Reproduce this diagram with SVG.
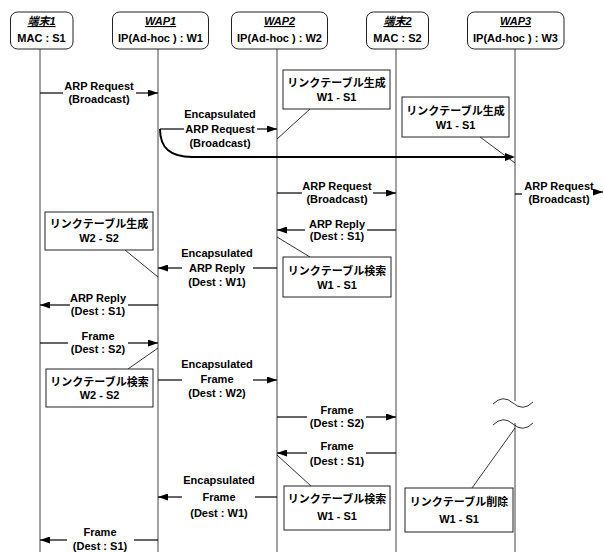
<svg xmlns="http://www.w3.org/2000/svg" width="604" height="552" viewBox="0 0 604 552">
<defs>
<style>
text{font-family:"Liberation Sans","Noto Sans CJK JP",sans-serif;font-weight:bold;font-size:11px;fill:#000;text-anchor:middle}
.hd{fill:#fff;stroke:#222;stroke-width:1}
.ttl{font-style:italic;text-decoration:underline}
.life{stroke:#444;stroke-width:1;fill:none}
.note{fill:#fff;stroke:#222;stroke-width:1}
.ln{stroke:#000;stroke-width:1.2;fill:none}
.thin{stroke:#000;stroke-width:0.8;fill:none}
.thick{stroke:#000;stroke-width:2;fill:none}
</style>
<marker id="ah" viewBox="0 0 10 7" refX="10" refY="3.5" markerWidth="10" markerHeight="7" orient="auto" markerUnits="userSpaceOnUse"><path d="M0,0 L10,3.5 L0,7 z" fill="#000"/></marker>
</defs>
<rect width="604" height="552" fill="#fff"/>

<g id="term1">
<line class="life" x1="40" y1="49" x2="40" y2="552"/>
<rect class="hd" x="10.5" y="12" width="62.5" height="37" rx="7"/>
<text class="ttl" x="41.5" y="25">端末1</text>
<text x="41.5" y="42">MAC : S1</text>
</g>
<g id="wap1">
<line class="life" x1="158" y1="49" x2="158" y2="552"/>
<rect class="hd" x="112.5" y="12" width="96" height="37" rx="7"/>
<text class="ttl" x="160.5" y="25">WAP1</text>
<text x="160.5" y="42">IP(Ad-hoc ) : W1</text>
</g>
<g id="wap2">
<line class="life" x1="277" y1="49" x2="277" y2="552"/>
<rect class="hd" x="231.5" y="12" width="96" height="37" rx="7"/>
<text class="ttl" x="279.5" y="25">WAP2</text>
<text x="279.5" y="42">IP(Ad-hoc ) : W2</text>
</g>
<g id="term2">
<line class="life" x1="396" y1="49" x2="396" y2="552"/>
<rect class="hd" x="366.5" y="12" width="62" height="37" rx="7"/>
<text class="ttl" x="397.5" y="25">端末2</text>
<text x="397.5" y="42">MAC : S2</text>
</g>
<g id="wap3">
<line class="life" x1="515" y1="49" x2="515" y2="401"/>
<line class="life" x1="515" y1="423" x2="515" y2="552"/>
<rect class="hd" x="467.5" y="12" width="96.5" height="37" rx="7"/>
<text class="ttl" x="515.5" y="25">WAP3</text>
<text x="515.5" y="42">IP(Ad-hoc ) : W3</text>
<path class="thin" d="M493,404 Q503,394 513,403 T533,402"/>
<path class="thin" d="M493,425 Q503,415 513,424 T533,423"/>
</g>

<g id="connectors">
<!-- A1 ARP Request -->
<line class="ln" x1="40" y1="93" x2="63" y2="93"/>
<line class="ln" x1="136" y1="93" x2="158" y2="93" marker-end="url(#ah)"/>
<text x="99" y="90">ARP Request</text>
<text x="99" y="103">(Broadcast)</text>
<!-- A2 Encapsulated ARP Request -->
<line class="ln" x1="160" y1="129" x2="184" y2="129"/>
<line class="ln" x1="257" y1="129" x2="277" y2="129" marker-end="url(#ah)"/>
<text x="220" y="118">Encapsulated</text>
<text x="220" y="133">ARP Request</text>
<text x="220" y="147">(Broadcast)</text>
<!-- A3 curve to WAP3 -->
<path class="thick" d="M160,129 C160,148 170,157 192,157 L506,157"/>
<path d="M505,153 L515,157 L505,161 z" fill="#000"/>
<!-- A4 -->
<line class="ln" x1="277" y1="193" x2="302" y2="193"/>
<line class="ln" x1="373" y1="193" x2="396" y2="193" marker-end="url(#ah)"/>
<text x="337" y="190">ARP Request</text>
<text x="337" y="203">(Broadcast)</text>
<!-- A5 -->
<line class="ln" x1="515" y1="194" x2="522" y2="194"/>
<line class="ln" x1="594" y1="192" x2="603" y2="192" marker-end="url(#ah)"/>
<text x="559" y="190">ARP Request</text>
<text x="559" y="203">(Broadcast)</text>
<!-- A6 ARP Reply -->
<line class="ln" x1="305" y1="230" x2="277" y2="230" marker-end="url(#ah)"/>
<line class="ln" x1="367" y1="230" x2="396" y2="230"/>
<text x="337" y="228">ARP Reply</text>
<text x="337" y="240">(Dest : S1)</text>
<!-- A7 Encapsulated ARP Reply -->
<line class="ln" x1="182" y1="268" x2="158" y2="268" marker-end="url(#ah)"/>
<line class="ln" x1="253" y1="268" x2="277" y2="268"/>
<text x="217" y="257">Encapsulated</text>
<text x="217" y="272">ARP Reply</text>
<text x="217" y="286">(Dest : W1)</text>
<!-- A8 ARP Reply -->
<line class="ln" x1="70" y1="305" x2="40" y2="305" marker-end="url(#ah)"/>
<line class="ln" x1="128" y1="305" x2="158" y2="305"/>
<text x="98" y="302">ARP Reply</text>
<text x="98" y="315">(Dest : S1)</text>
<!-- A9 Frame -->
<line class="ln" x1="40" y1="343" x2="68" y2="343"/>
<line class="ln" x1="128" y1="343" x2="158" y2="343" marker-end="url(#ah)"/>
<text x="98" y="340">Frame</text>
<text x="98" y="353">(Dest : S2)</text>
<!-- A10 Encapsulated Frame -->
<line class="ln" x1="158" y1="380" x2="182" y2="380"/>
<line class="ln" x1="253" y1="380" x2="277" y2="380" marker-end="url(#ah)"/>
<text x="217" y="368">Encapsulated</text>
<text x="217" y="383">Frame</text>
<text x="217" y="397">(Dest : W2)</text>
<!-- A11 Frame -->
<line class="ln" x1="277" y1="417" x2="307" y2="417"/>
<line class="ln" x1="366" y1="417" x2="396" y2="417" marker-end="url(#ah)"/>
<text x="337" y="414">Frame</text>
<text x="337" y="427">(Dest : S2)</text>
<!-- A12 Frame -->
<line class="ln" x1="307" y1="453" x2="277" y2="453" marker-end="url(#ah)"/>
<line class="ln" x1="366" y1="453" x2="396" y2="453"/>
<text x="337" y="450">Frame</text>
<text x="337" y="465">(Dest : S1)</text>
<!-- A13 Encapsulated Frame -->
<line class="ln" x1="182" y1="497" x2="158" y2="497" marker-end="url(#ah)"/>
<line class="ln" x1="255" y1="497" x2="277" y2="497"/>
<text x="219" y="484">Encapsulated</text>
<text x="219" y="501">Frame</text>
<text x="219" y="517">(Dest : W1)</text>
<!-- A14 Frame -->
<line class="ln" x1="67" y1="540" x2="40" y2="540" marker-end="url(#ah)"/>
<line class="ln" x1="134" y1="540" x2="158" y2="540"/>
<text x="100" y="536">Frame</text>
<text x="100" y="550">(Dest : S1)</text>
<!-- leaders -->
<line class="thin" x1="310" y1="109" x2="277" y2="139"/>
<line class="thin" x1="480" y1="137" x2="515" y2="163"/>
<line class="thin" x1="125" y1="250" x2="158" y2="277"/>
<line class="thin" x1="277" y1="237" x2="310" y2="257"/>
<line class="thin" x1="158" y1="348" x2="128" y2="369"/>
<line class="thin" x1="277" y1="455" x2="311" y2="486"/>
<line class="thin" x1="515" y1="428" x2="472" y2="488"/>
</g>

<g id="note1">
<rect class="note" x="283" y="70" width="107" height="39"/>
<text x="336.5" y="87">リンクテーブル生成</text>
<text x="336.5" y="101">W1 - S1</text>
</g>
<g id="note2">
<rect class="note" x="402" y="97" width="107" height="40"/>
<text x="455.5" y="115">リンクテーブル生成</text>
<text x="455.5" y="129">W1 - S1</text>
</g>
<g id="note3">
<rect class="note" x="45" y="212" width="108" height="38"/>
<text x="99" y="228">リンクテーブル生成</text>
<text x="99" y="242">W2 - S2</text>
</g>
<g id="note4">
<rect class="note" x="283" y="257" width="108" height="40"/>
<text x="337" y="275">リンクテーブル検索</text>
<text x="337" y="289">W1 - S1</text>
</g>
<g id="note5">
<rect class="note" x="46" y="369" width="107" height="38"/>
<text x="99.5" y="386">リンクテーブル検索</text>
<text x="99.5" y="399">W2 - S2</text>
</g>
<g id="note6">
<rect class="note" x="284" y="486" width="106" height="44"/>
<text x="337" y="503">リンクテーブル検索</text>
<text x="337" y="520">W1 - S1</text>
</g>
<g id="note7">
<rect class="note" x="405" y="488" width="108" height="44"/>
<text x="459" y="506">リンクテーブル削除</text>
<text x="459" y="523">W1 - S1</text>
</g>
</svg>
